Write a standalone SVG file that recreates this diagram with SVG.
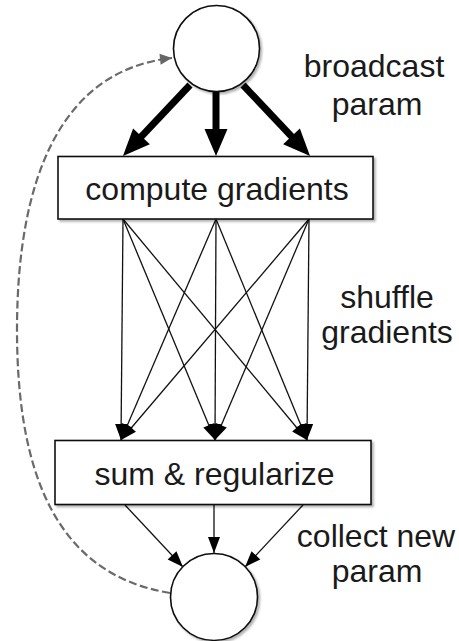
<svg xmlns="http://www.w3.org/2000/svg" width="459" height="641" viewBox="0 0 459 641">
<style>
.node{fill:#fff;stroke:#111;stroke-width:1.6}
.lbl{font-family:"Liberation Sans",Arial,sans-serif;font-size:32px;fill:#1a1a1a;text-anchor:middle}
.thick{stroke:#000;stroke-width:7;fill:none}
.thin{stroke:#111;stroke-width:1.3;fill:none;marker-end:url(#ah)}
.dash{stroke:#6a6a6a;stroke-width:2.2;fill:none;stroke-dasharray:8 3.5;marker-end:url(#ag)}
</style>
<defs>
<filter id="sh" x="-10%" y="-10%" width="130%" height="130%">
<feDropShadow dx="2" dy="2" stdDeviation="1.2" flood-color="#000" flood-opacity="0.3"/>
</filter>
<marker id="ahk" markerUnits="userSpaceOnUse" markerWidth="30" markerHeight="30" refX="0" refY="0" orient="auto" overflow="visible">
<path d="M-1,-11.5 L26,0 L-1,11.5 z" fill="#000"/>
</marker>
<marker id="ah" markerUnits="userSpaceOnUse" markerWidth="20" markerHeight="20" refX="16" refY="0" orient="auto" overflow="visible">
<path d="M0,-6 L16,0 L0,6 z" fill="#000"/>
</marker>
<marker id="ag" markerUnits="userSpaceOnUse" markerWidth="16" markerHeight="16" refX="12" refY="0" orient="auto" overflow="visible">
<path d="M0,-5.5 L12,0 L0,5.5 z" fill="#666"/>
</marker>
</defs>

<g id="connectors">
<path class="thick" d="M190,85 L140.8,137.1" marker-end="url(#ahk)"/>
<path class="thick" d="M216,92 L216,130" marker-end="url(#ahk)"/>
<path class="thick" d="M243,85 L292.2,137.1" marker-end="url(#ahk)"/>

<path class="thin" d="M123,219 L121,440"/>
<path class="thin" d="M123,219 L215,440"/>
<path class="thin" d="M123,219 L307,440"/>
<path class="thin" d="M216,219 L121,440"/>
<path class="thin" d="M216,219 L215,440"/>
<path class="thin" d="M216,219 L307,440"/>
<path class="thin" d="M309,219 L121,440"/>
<path class="thin" d="M309,219 L215,440"/>
<path class="thin" d="M309,219 L307,440"/>

<path class="thin" d="M125,505 L183,567"/>
<path class="thin" d="M214,505 L214,553"/>
<path class="thin" d="M303,505 L245,567"/>

<path class="dash" d="M170,593 C60,575 17,480 17,330 C17,180 60,70 172,58"/>
</g>

<g id="param-top">
<circle class="node" cx="216.5" cy="48.5" r="43" filter="url(#sh)"/>
</g>
<g id="compute-gradients">
<rect class="node" x="58" y="156.5" width="315" height="62.5" filter="url(#sh)"/>
<text class="lbl" x="217" y="200">compute gradients</text>
</g>
<g id="sum-regularize">
<rect class="node" x="55" y="440.5" width="316" height="64" filter="url(#sh)"/>
<text class="lbl" x="214.5" y="485">sum &amp; regularize</text>
</g>
<g id="param-bottom">
<circle class="node" cx="214" cy="597" r="43.5" filter="url(#sh)"/>
</g>

<g id="labels">
<text class="lbl" x="374" y="77">broadcast</text>
<text class="lbl" x="377" y="115">param</text>
<text class="lbl" x="387" y="308">shuffle</text>
<text class="lbl" x="387" y="343">gradients</text>
<text class="lbl" x="376" y="547">collect new</text>
<text class="lbl" x="377" y="582">param</text>
</g>
</svg>
